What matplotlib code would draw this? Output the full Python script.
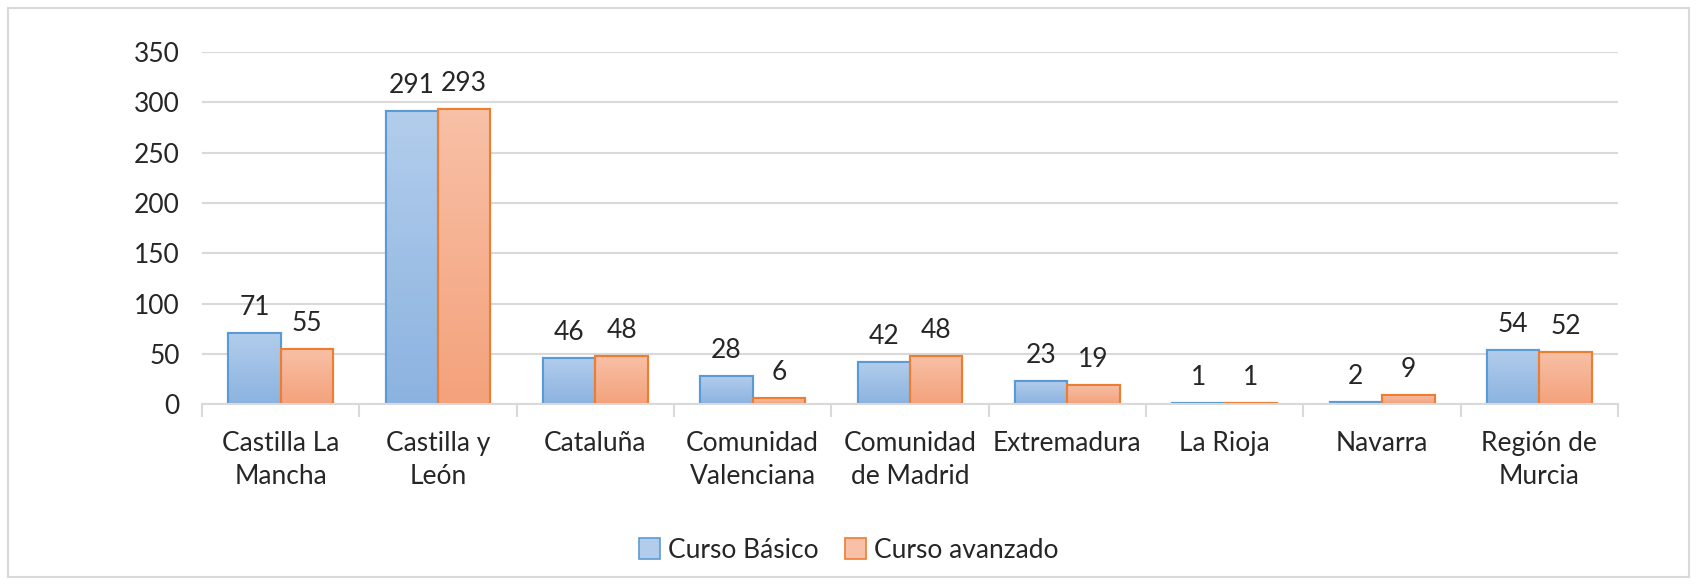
import matplotlib
matplotlib.use("Agg")
import matplotlib.pyplot as plt
import numpy as np
from matplotlib.colors import LinearSegmentedColormap
from matplotlib.patches import Rectangle

categories = ["Castilla La\nMancha", "Castilla y\nLeón", "Cataluña", "Comunidad\nValenciana",
              "Comunidad\nde Madrid", "Extremadura", "La Rioja", "Navarra", "Región de\nMurcia"]
basico = [71, 291, 46, 28, 42, 23, 1, 2, 54]
avanzado = [55, 293, 48, 6, 48, 19, 1, 9, 52]
series_names = ["Curso Básico", "Curso avanzado"]
yticks = [0, 50, 100, 150, 200, 250, 300, 350]

plt.rcParams['font.family'] = ['Lato', 'DejaVu Sans']
txt = '#262626'
grid = '#d9d9d9'
fs = 19

fig = plt.figure(figsize=(16.97, 5.84), dpi=100)
ax = fig.add_axes([0.119, 0.308, 0.8345, 0.603])

x = np.arange(len(categories))
w = 1 / 3
specs = [
    (basico, -w / 2, '#5b9bd5', ('#b2cdec', '#8cb3e0')),
    (avanzado, w / 2, '#ed7d31', ('#f8c0a6', '#f4a27c')),
]
grad = np.linspace(0, 1, 64).reshape(-1, 1)
handles = []
for vals, off, edge, (c_top, c_bot) in specs:
    cmap = LinearSegmentedColormap.from_list('g', [c_top, c_bot])
    bars = ax.bar(x + off, vals, width=w, color=c_bot, edgecolor=edge, linewidth=1.5, zorder=3)
    for b in bars:
        bx, by = b.get_x(), b.get_y()
        bw, bh = b.get_width(), b.get_height()
        im = ax.imshow(grad, cmap=cmap, aspect='auto', extent=[bx, bx + bw, by, by + bh],
                       origin='upper', zorder=3.5)
        im.set_clip_path(b)
        ax.add_patch(Rectangle((bx, by), bw, bh, fill=False, edgecolor=edge, linewidth=1.5, zorder=4))
        ax.text(bx + bw / 2, by + bh + 13, f"{int(bh)}", ha='center', va='bottom',
                fontsize=fs, color=txt, zorder=5)
    handles.append(Rectangle((0, 0), 1, 1, facecolor=c_top, edgecolor=edge, linewidth=1.2))

ax.set_xlim(-0.5, len(categories) - 0.5)
ax.set_ylim(0, 350)
ax.set_yticks(yticks)
ax.set_yticklabels([str(v) for v in yticks], fontsize=fs, color=txt)
ax.tick_params(axis='y', length=0, pad=16)
ax.set_xticks(x)
ax.set_xticklabels(categories, fontsize=fs, color=txt, linespacing=1.4)
ax.tick_params(axis='x', which='major', length=0, pad=19)
ax.set_xticks(np.arange(len(categories) + 1) - 0.5, minor=True)
ax.tick_params(axis='x', which='minor', length=9, color=grid, width=1.5)
ax.yaxis.grid(True, color=grid, linewidth=1.5, zorder=0)
ax.set_axisbelow(True)
for s in ['top', 'right', 'left']:
    ax.spines[s].set_visible(False)
ax.spines['bottom'].set_color(grid)
ax.spines['bottom'].set_linewidth(1.5)
ax.spines['bottom'].set_zorder(6)

fig.legend(handles, series_names, loc='center', bbox_to_anchor=(0.5, 0.058), ncol=2,
           frameon=False, fontsize=fs, handlelength=0.8, handleheight=0.8,
           handletextpad=0.3, columnspacing=1.0, labelcolor=txt)

fig.patches.append(Rectangle((0.005, 0.012), 0.99, 0.975, transform=fig.transFigure,
                             fill=False, edgecolor=grid, linewidth=1.5))

fig.savefig('out.png', dpi=100)
